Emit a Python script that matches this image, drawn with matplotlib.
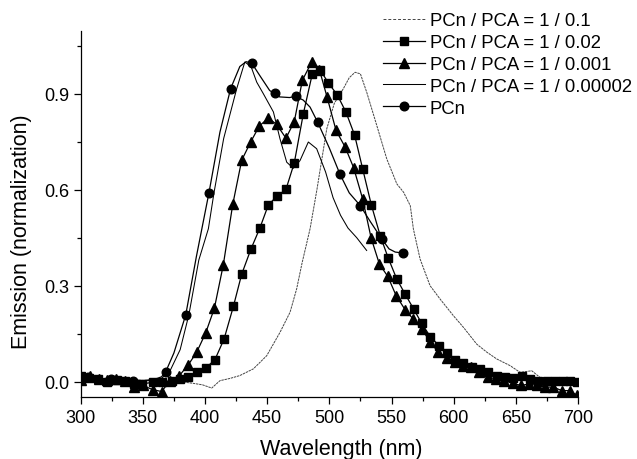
import matplotlib
matplotlib.use("Agg")
import matplotlib.pyplot as plt
from matplotlib.ticker import MultipleLocator
from matplotlib.lines import Line2D

plt.rcParams['font.family'] = ['Liberation Sans', 'DejaVu Sans']

# ---------------- data ----------------
labels = ["PCn / PCA = 1 / 0.1", "PCn / PCA = 1 / 0.02", "PCn / PCA = 1 / 0.001",
          "PCn / PCA = 1 / 0.00002", "PCn"]

# PCn / PCA = 1 / 0.1  (dashed)
r01_x = [300, 320, 340, 360, 380, 390, 398, 405.4, 412, 420, 428, 438.9, 449.6, 460.3, 468.4,
         473.7, 478, 484.5, 490, 497.9, 504, 511.3, 516, 520.7, 525, 530.1, 538.2, 546.2, 554.3,
         559.7, 565.1, 567.6, 573, 581, 589.1, 599.8, 607.8, 618.6, 626.7, 634.6, 645.4, 653.4,
         662.8, 669.5, 680.2, 688.2, 696.3, 700]
r01_y = [0.010, 0.008, 0.005, 0.003, 0.000, -0.005, -0.010, -0.020, 0.003, 0.010, 0.019, 0.040,
         0.081, 0.154, 0.217, 0.290, 0.370, 0.478, 0.600, 0.790, 0.870, 0.916, 0.950, 0.967,
         0.962, 0.904, 0.800, 0.696, 0.618, 0.592, 0.550, 0.477, 0.383, 0.300, 0.258, 0.206,
         0.170, 0.117, 0.092, 0.071, 0.050, 0.029, 0.034, 0.013, 0.008, 0.013, 0.008, 0.005]

# PCn / PCA = 1 / 0.02  (squares)
r002_x = [300, 307, 314.2, 320.9, 329, 335.7, 342.9, 349.1, 358.4, 365.7,
          373.2, 379.9, 386.6, 393.8, 400.5, 408, 415.3, 422.8, 429.5, 437,
          444.2, 450.9, 457.6, 465.1, 471.8, 479.1, 486.3, 492.5, 499.2, 506.4,
          513.3, 520.3, 526.8, 533.8, 541, 547.5, 554.2, 560.9, 567.8, 574.3,
          581.3, 588.4, 594.4, 601.1, 607.8, 614.5, 621.2, 627.9, 634.6, 641.4,
          647.5, 654.7, 661.4, 668.1, 674.8, 681.5, 687.7, 693.6, 699]
r002_y = [0.017, 0.010, 0.008, -0.002, 0.005, 0.003, -0.007, -0.007, -0.002, -0.002,
          0.003, 0.008, 0.014, 0.029, 0.042, 0.069, 0.133, 0.235, 0.336, 0.415,
          0.481, 0.552, 0.579, 0.601, 0.684, 0.838, 0.962, 0.975, 0.934, 0.896,
          0.843, 0.771, 0.665, 0.552, 0.455, 0.385, 0.321, 0.274, 0.227, 0.182,
          0.140, 0.112, 0.088, 0.068, 0.057, 0.046, 0.038, 0.030, 0.019, 0.014,
          0.012, 0.017, 0.008, 0.003, 0.003, 0.003, 0.003, 0.003, -0.002]

# PCn / PCA = 1 / 0.001  (triangles)
r0001_x = [300, 307.5, 314.5, 321.5, 328.5, 335.5, 342.9, 350, 357.9, 365.1,
           371.8, 379.4, 386.6, 393.3, 400.5, 407.5, 414.7, 422.3, 429.5, 436.7,
           443.7, 450.9, 457.6, 465.1, 471.8, 478.3, 485.8, 492, 498.2, 505.4,
           512.6, 519.5, 526.8, 533.6, 540.3, 547, 553.7, 560.9, 567.6, 574.3,
           581, 587.7, 594.4, 601.1, 607.8, 614, 620.7, 627.4, 634, 640.8,
           647.5, 654.2, 660.9, 666.8, 673.5, 680.2, 686.9, 693.6, 699]
r0001_y = [0.005, 0.017, 0.008, 0.005, 0.008, 0.003, -0.018, -0.012, -0.025, -0.031,
           0.003, 0.019, 0.053, 0.092, 0.152, 0.229, 0.365, 0.554, 0.692, 0.749,
           0.799, 0.824, 0.804, 0.761, 0.813, 0.942, 0.999, 0.975, 0.889, 0.785,
           0.734, 0.669, 0.571, 0.449, 0.367, 0.329, 0.269, 0.225, 0.195, 0.165,
           0.125, 0.092, 0.075, 0.060, 0.050, 0.045, 0.030, 0.015, 0.008, 0.003,
           -0.005, -0.012, -0.007, -0.012, -0.017, -0.017, -0.028, -0.028, -0.043]

# PCn / PCA = 1 / 0.00002  (thin solid)
r00002_x = [300, 320, 340, 355, 365, 372, 380, 387, 395, 402.7, 407.2, 415, 425.5, 432, 437,
            441.6, 446.9, 455, 460.3, 465.7, 471, 476.4, 483.1, 489.8, 497, 503, 509, 515,
            522, 530]
r00002_y = [0.010, 0.008, 0.005, 0.003, 0.010, 0.035, 0.100, 0.209, 0.380, 0.478, 0.590,
            0.760, 0.916, 0.999, 0.985, 0.936, 0.900, 0.843, 0.759, 0.686, 0.667, 0.691,
            0.749, 0.728, 0.655, 0.575, 0.520, 0.480, 0.450, 0.410]

# PCn (circles): curve and marker samples
pcn_x = [300, 310, 320, 330, 340, 350, 360, 365, 368.4, 375, 384.5, 393, 403.2, 412, 420.6,
         428, 433, 437.5, 444, 452, 460, 468, 472.9, 479, 484.5, 490.6, 500, 508.6, 516,
         524.9, 533, 542.2, 548, 553, 559.5]
pcn_y = [0.012, 0.012, 0.008, 0.006, 0.003, 0.003, 0.008, 0.015, 0.031, 0.090, 0.209, 0.390,
         0.591, 0.780, 0.916, 0.985, 1.000, 0.996, 0.957, 0.910, 0.890, 0.888, 0.892, 0.880,
         0.858, 0.811, 0.730, 0.648, 0.590, 0.550, 0.500, 0.446, 0.415, 0.405, 0.402]
pcn_mark_x = [306, 324, 342, 368.4, 384.5, 403.2, 420.6, 437.5, 456.3, 472.9, 490.6, 508.6,
              524.9, 542.2, 559.5]
pcn_mark_y = [0.013, 0.008, 0.003, 0.031, 0.209, 0.591, 0.916, 0.996, 0.903, 0.892, 0.811,
              0.648, 0.550, 0.446, 0.402]

xticks = [300, 350, 400, 450, 500, 550, 600, 650, 700]
yticks = [0.0, 0.3, 0.6, 0.9]

# ---------------- figure ----------------
W, H = 637, 460
fig = plt.figure(figsize=(W / 100, H / 100), dpi=100)
ax = fig.add_axes([80.7 / W, 1 - 398 / H, (578 - 80.7) / W, (398 - 32) / H])

lw = 0.9
l1, = ax.plot(r01_x, r01_y, color='#444444', lw=0.7, ls=(0, (2.5, 0.8)))
l2, = ax.plot(r002_x, r002_y, color='black', lw=lw, marker='s', ms=5.8)
l3, = ax.plot(r0001_x, r0001_y, color='black', lw=lw, marker='^', ms=6.5)
l4, = ax.plot(r00002_x, r00002_y, color='black', lw=0.75)
ax.plot(pcn_x, pcn_y, color='black', lw=lw)
ax.plot(pcn_mark_x, pcn_mark_y, color='black', lw=0, marker='o', ms=6.2)
l5 = Line2D([], [], color='black', lw=lw, marker='o', ms=6.2)

ax.set_xlim(300, 700)
ax.set_ylim(-0.048, 1.096)
ax.set_xticks(xticks)
ax.set_yticks(yticks)
ax.set_yticklabels([f"{v:.1f}" for v in yticks])
ax.xaxis.set_minor_locator(MultipleLocator(25))
ax.yaxis.set_minor_locator(MultipleLocator(0.15))
ax.tick_params(which='major', direction='out', length=5, width=0.9, labelsize=13, pad=3)
ax.tick_params(which='minor', direction='out', length=3, width=0.9)
ax.tick_params(axis='x', which='major', pad=4)
for s in ['top', 'right']:
    ax.spines[s].set_visible(False)
for s in ['left', 'bottom']:
    ax.spines[s].set_linewidth(0.9)

fig.text(341 / W, 1 - 450 / H, 'Wavelength (nm)', ha='center', va='center', fontsize=15.5)
fig.text(21.7 / W, 1 - 231.7 / H, 'Emission (normalization)', ha='center', va='center',
         rotation=90, fontsize=15.5)

leg = fig.legend([l1, l2, l3, l4, l5], labels, loc='upper left',
                 bbox_to_anchor=(383 / W, 1 - 13 / H), bbox_transform=fig.transFigure,
                 frameon=False, fontsize=13.3, borderpad=0, borderaxespad=0,
                 labelspacing=0.27, handlelength=2.27, handletextpad=0.27, numpoints=1)
leg.get_lines()[0].set_dashes([3, 2])

fig.savefig('out.png', dpi=100)
